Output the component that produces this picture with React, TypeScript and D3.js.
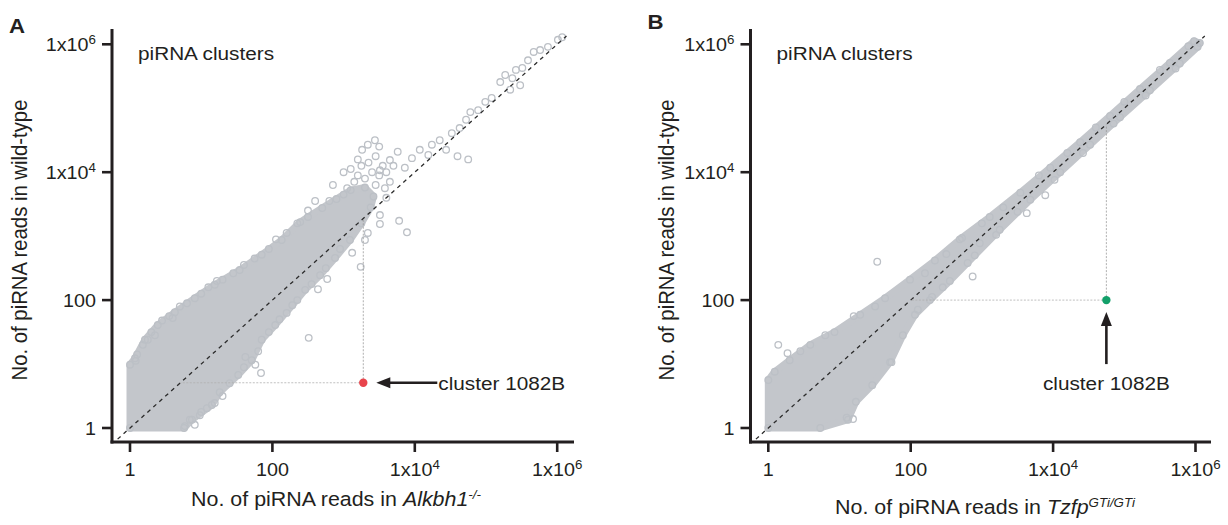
import React from "react";
import * as d3 from "d3";

// ---------- data (log10 of read counts) ----------
const TICK_VALUES = [1, 100, 1e4, 1e6];
const TICK_BASE = ["1", "100", "1x10", "1x10"];
const TICK_EXP = ["", "", "4", "6"];

// dense cloud outline, panel A (log10 mutant, log10 wild-type)
const coreA_log: [number, number][] = [
  [0, 0], [0.76, 0], [0.87, 0.13], [1.15, 0.36], [1.26, 0.56], [1.52, 0.83], [1.71, 1.06],
  [1.85, 1.38], [2.04, 1.61], [2.28, 1.92], [2.46, 2.16], [2.67, 2.39], [2.88, 2.66],
  [3.09, 2.94], [3.25, 3.2], [3.38, 3.45], [3.42, 3.62], [3.3, 3.76], [3.1, 3.72],
  [2.9, 3.58], [2.7, 3.44], [2.5, 3.3], [2.39, 3.22], [2.13, 2.94],
  [1.85, 2.71], [1.54, 2.47], [1.19, 2.24], [0.91, 2.03], [0.63, 1.81], [0.39, 1.61],
  [0.21, 1.38], [0.07, 1.09], [0, 0.99],
];
// individual clusters around / outside the dense cloud, panel A
const ptsA_log: [number, number][] = [
  [0.84, 0.13], [0.98, 0.2], [1.08, 0.31], [1.19, 0.39], [0.91, 0.05], [0.77, 0.03],
  [1.62, 1.11], [1.76, 0.99], [1.84, 0.86], [2.51, 1.41], [0.08, 1.05], [0.25, 1.38],
  [0.1, 1.15], [0.18, 1.3], [0.3, 1.5], [0.45, 1.68], [0.55, 1.75], [0.7, 1.9], [0.8, 1.95],
  [1.0, 2.1], [1.1, 2.2], [1.3, 2.32], [1.45, 2.42], [1.6, 2.55], [1.75, 2.65], [1.95, 2.8],
  [2.05, 2.95], [2.2, 3.05], [2.35, 3.2], [0.35, 1.45], [0.6, 1.72], [1.22, 2.3],
  [1.3, 0.5], [1.4, 0.7], [1.6, 0.95], [1.8, 1.2], [1.95, 1.5], [2.1, 1.7], [2.2, 1.8],
  [2.35, 2.0], [2.55, 2.25], [2.75, 2.5], [2.95, 2.8], [1.0, 0.25],
  [3.51, 3.33], [3.51, 3.19], [3.78, 3.24], [3.89, 3.06], [3.24, 2.52], [2.77, 2.33],
  [2.64, 2.17], [3.12, 2.74], [3.3, 2.94], [3.34, 3.05],
  [2.6, 3.55], [2.5, 3.4], [2.85, 3.8], [3.0, 4.0], [3.2, 4.2], [3.6, 3.6], [3.65, 3.85],
  [3.45, 3.8], [3.5, 3.95], [3.55, 4.1], [3.4, 4.0], [3.3, 3.9], [3.2, 3.95], [3.35, 4.15],
  [3.45, 4.25], [3.6, 4.0], [3.7, 4.1], [3.15, 3.85], [3.05, 3.75], [3.25, 4.1], [3.5, 4.4],
  [3.58, 3.75], [3.0, 3.65], [2.8, 3.55], [3.1, 4.05],
  [3.26, 4.35], [3.34, 4.43], [3.44, 4.5], [3.51, 4.03], [3.65, 4.19], [3.76, 4.32],
  [3.86, 4.07], [3.96, 4.22], [4.07, 4.35], [4.19, 4.27], [4.24, 4.43], [4.35, 4.5],
  [4.44, 4.35], [4.6, 4.25], [4.75, 4.2], [4.52, 4.61], [4.63, 4.69], [4.72, 4.82],
  [4.78, 4.94], [4.89, 4.97], [4.99, 5.1], [5.08, 5.16], [5.2, 5.41], [5.27, 5.52],
  [5.37, 5.47], [5.42, 5.6], [5.51, 5.63], [5.59, 5.75], [5.67, 5.88], [5.76, 5.91],
  [5.87, 5.96], [6.01, 6.07], [6.07, 6.11], [5.48, 5.36], [5.34, 5.29],
];
// dense cloud outline, panel B
const coreB_log: [number, number][] = [
  [0, 0], [0.73, 0], [1.12, 0.13], [1.23, 0.41], [1.46, 0.67], [1.71, 1.03], [1.89, 1.45],
  [2.06, 1.77], [2.27, 2.0], [2.55, 2.3], [2.9, 2.7], [3.25, 3.1], [3.68, 3.57], [4.1, 4.0],
  [4.52, 4.43], [4.94, 4.86], [5.36, 5.28], [5.78, 5.7], [6.03, 5.96], [6.06, 6.02],
  [5.98, 6.05], [5.64, 5.71], [5.22, 5.3], [4.8, 4.88], [4.38, 4.47], [3.96, 4.07],
  [3.54, 3.68], [3.11, 3.3], [2.69, 2.95], [2.34, 2.62], [1.99, 2.32], [1.64, 2.03],
  [1.29, 1.77], [0.93, 1.5], [0.59, 1.3], [0.3, 1.06], [0.09, 0.88], [0, 0.75],
];
const ptsB_log: [number, number][] = [
  [1.1, 0.16], [1.19, 0.14], [1.73, 1.03], [0.14, 1.3], [0.27, 1.17],
  [2.87, 2.37], [1.53, 2.6], [3.89, 3.64], [3.63, 3.36], [2.97, 2.89],
  [2.2, 2.42], [2.5, 2.72], [2.45, 2.2], [2.8, 2.58], [3.0, 3.2], [3.3, 3.45], [3.5, 3.38],
  [3.8, 3.95], [4.02, 3.88], [4.2, 4.3], [4.42, 4.3], [4.6, 4.7], [4.85, 4.76], [5.0, 5.1],
  [5.3, 5.2], [5.5, 5.6], [5.72, 5.62], [5.9, 5.97], [3.2, 3.02], [2.72, 2.97],
  [2.1, 1.85], [2.3, 2.05], [1.5, 1.9], [1.2, 1.75], [0.8, 1.45], [0.45, 1.2],
];

const DIAG = [0.67, 1.35e6];
// highlighted cluster 1082B: [mutant reads, wild-type reads]
const HI_A = [1890, 5.1];
const HI_B = [56000, 100];

// ---------- styling ----------
const FONT = "'Liberation Sans', Arial, Helvetica, sans-serif";
const SX = 1.11;
const PT = "#bcc0c6";
const FILL = "#c3c6cb";
const INK = "#231f20";

function T({ x, y, size, anchor = "start", rotate, weight, children }: any) {
  return (
    <g transform={`translate(${x},${y}) scale(${SX},1)${rotate ? ` rotate(${rotate})` : ""}`}>
      <text fontFamily={FONT} fontSize={size} textAnchor={anchor} fill={INK} fontWeight={weight}>
        {children}
      </text>
    </g>
  );
}

function Panel({ axisX, x1, right, core, pts, hi, hiColor, letter, letterY, xTitle, yTitleX, xTitleX, xTitleY, arrow }: any) {
  const top = 29, bottom = 442;
  const x = d3.scaleLog().domain([1, 1e6]).range([x1, x1 + 6 * 71.2]);
  const y = d3.scaleLog().domain([1, 1e6]).range([428, 44.3]);
  const toXY = (d: [number, number]) => [x(10 ** d[0]), y(10 ** d[1])] as [number, number];
  const corePath = d3.line()(core.map(toXY)) + "Z";
  const hx = x(hi[0]), hy = y(hi[1]);
  return (
    <g>
      <path d={corePath} fill={FILL} stroke={FILL} strokeWidth={7} strokeLinejoin="round" />
      {core.concat(pts).map((d: [number, number], i: number) => {
        const [cx, cy] = toXY(d);
        return <circle key={i} cx={cx} cy={cy} r={3.3} fill="none" stroke={PT} strokeWidth={1.3} />;
      })}
      <line x1={x(DIAG[0])} y1={y(DIAG[0])} x2={x(DIAG[1])} y2={y(DIAG[1])}
        stroke="#2b2b2b" strokeWidth={1.3} strokeDasharray="4 4" />
      <line x1={hx} y1={hy} x2={hx} y2={y(hi[0])} stroke="#9a9a9a" strokeWidth={0.8} strokeDasharray="2 1.5" />
      <line x1={hx} y1={hy} x2={x(hi[1])} y2={hy} stroke="#b0b0b0" strokeWidth={0.8} strokeDasharray="2 1.5" />
      <circle cx={hx} cy={hy} r={4.2} fill={hiColor} />
      {arrow === "left" ? (
        <g>
          <line x1={hx + 24} y1={hy} x2={hx + 74} y2={hy} stroke={INK} strokeWidth={2.6} />
          <path d={`M${hx + 13},${hy} L${hx + 27},${hy - 5.5} L${hx + 27},${hy + 5.5} Z`} fill={INK} />
          <T x={hx + 75} y={hy + 7} size={18.7}>cluster 1082B</T>
        </g>
      ) : (
        <g>
          <line x1={hx} y1={hy + 24} x2={hx} y2={hy + 64} stroke={INK} strokeWidth={2.6} />
          <path d={`M${hx},${hy + 12} L${hx - 5.5},${hy + 26} L${hx + 5.5},${hy + 26} Z`} fill={INK} />
          <T x={hx} y={hy + 90} size={18.7} anchor="middle">cluster 1082B</T>
        </g>
      )}
      {/* axes */}
      <line x1={axisX} y1={top} x2={axisX} y2={bottom + 1.5} stroke={INK} strokeWidth={3} />
      <line x1={axisX - 1.5} y1={bottom} x2={right} y2={bottom} stroke={INK} strokeWidth={3} />
      {TICK_VALUES.map((v, i) => (
        <g key={i}>
          <line x1={axisX - 10} y1={y(v)} x2={axisX} y2={y(v)} stroke={INK} strokeWidth={2.6} />
          <line x1={x(v)} y1={bottom} x2={x(v)} y2={bottom + 10} stroke={INK} strokeWidth={2.6} />
          <T x={axisX - 16} y={y(v) + 6.5} size={17.8} anchor="end">
            {TICK_BASE[i]}
            {TICK_EXP[i] && <tspan fontSize={12} dy={-7}>{TICK_EXP[i]}</tspan>}
          </T>
          <T x={x(v)} y={476} size={17.8} anchor="middle">
            {TICK_BASE[i]}
            {TICK_EXP[i] && <tspan fontSize={12} dy={-7}>{TICK_EXP[i]}</tspan>}
          </T>
        </g>
      ))}
      <T x={axisX + 26} y={60} size={18.7}>piRNA clusters</T>
      <T x={axisX - 103} y={letterY} size={20} weight="bold">{letter}</T>
      <T x={yTitleX} y={240} size={20.3} anchor="middle" rotate={-90}>No. of piRNA reads in wild-type</T>
      <T x={xTitleX} y={xTitleY} size={19.3} anchor="middle">
        No. of piRNA reads in <tspan fontStyle="italic">{xTitle[0]}</tspan>
        <tspan fontStyle="italic" fontSize={12} dy={-7}>{xTitle[1]}</tspan>
      </T>
    </g>
  );
}

export default function App() {
  return (
    <svg width={1228} height={525} style={{ display: "block", position: "absolute", left: 0, top: 0, background: "#fff" }}>
      <rect width={1228} height={525} fill="#fff" />
      <Panel axisX={112} x1={130} right={574} core={coreA_log} pts={ptsA_log} hi={HI_A} hiColor="#e8444c"
        letter="A" letterY={33} xTitle={["Alkbh1", "-/-"]} yTitleX={27} xTitleX={336} xTitleY={506} arrow="left" />
      <Panel axisX={750.5} x1={768.3} right={1211} core={coreB_log} pts={ptsB_log} hi={HI_B} hiColor="#13a06a"
        letter="B" letterY={29} xTitle={["Tzfp", "GTi/GTi"]} yTitleX={674} xTitleX={985} xTitleY={514} arrow="up" />
    </svg>
  );
}
